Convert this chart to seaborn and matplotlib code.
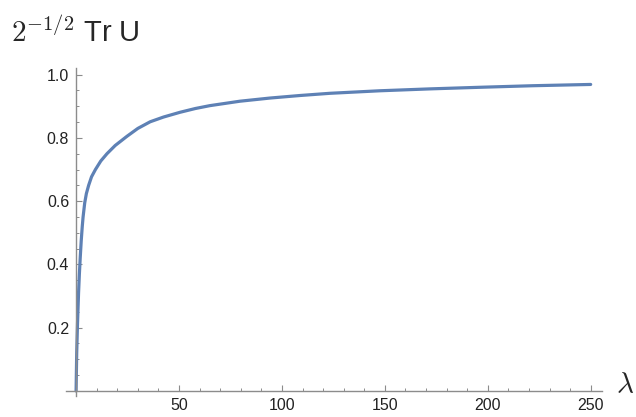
import numpy as np
import pandas as pd
import seaborn as sns
import matplotlib
matplotlib.use('Agg')
import matplotlib.pyplot as plt
from matplotlib.ticker import MultipleLocator, FixedLocator

# Values
lam = [0, 0.3, 0.7, 1.2, 1.6, 2.0, 2.5, 3.0, 3.4, 4.2, 5.0, 6.1, 7.5, 9.4,
       12, 15, 19, 24.7, 30, 36, 42.5, 50.5, 58, 65, 79.6, 94.2, 108.7,
       123.3, 147.6, 172, 196, 222, 250]
tr_u = [0.0, 0.12, 0.215, 0.31, 0.37, 0.42, 0.475, 0.52, 0.55, 0.595, 0.624, 0.65, 0.677, 0.70,
        0.727, 0.75, 0.776, 0.805, 0.83, 0.851, 0.866, 0.881, 0.893, 0.902, 0.916, 0.926, 0.934,
        0.941, 0.949, 0.955, 0.960, 0.965, 0.969]

x_ticks = [50, 100, 150, 200, 250]
y_ticks = [0.2, 0.4, 0.6, 0.8, 1.0]

df = pd.DataFrame({'lam': lam, 'tr': tr_u})

sns.set_theme(style='white')
plt.rcParams['font.family'] = ['Liberation Sans', 'DejaVu Sans']
plt.rcParams['mathtext.fontset'] = 'cm'

fig = plt.figure(figsize=(6.36, 4.17), dpi=100)
ax = fig.add_axes([66 / 636, 1 - 396 / 417, 536 / 636, 328 / 417])

sns.lineplot(data=df, x='lam', y='tr', ax=ax, color='#5E81B5', linewidth=2.3,
             estimator=None, sort=True)

ax.set_xlim(-4.9, 255.5)
ax.set_ylim(-0.016, 1.021)

# Mathematica style axes crossing at origin
for side in ['top', 'right']:
    ax.spines[side].set_visible(False)
for side in ['left', 'bottom']:
    ax.spines[side].set_position(('data', 0))
    ax.spines[side].set_color('#8c8c8c')
    ax.spines[side].set_linewidth(1.0)

ax.xaxis.set_major_locator(FixedLocator(x_ticks))
ax.yaxis.set_major_locator(FixedLocator(y_ticks))
ax.xaxis.set_minor_locator(MultipleLocator(10))
ax.yaxis.set_minor_locator(MultipleLocator(0.05))
ax.set_xticklabels([str(v) for v in x_ticks])
ax.set_yticklabels(['%.1f' % v for v in y_ticks])

ax.tick_params(which='major', direction='in', length=4, width=0.8, color='#8c8c8c',
               labelsize=11.5, labelcolor='#222222', pad=5)
ax.tick_params(which='minor', direction='in', length=2.2, width=0.7, color='#8c8c8c')
ax.tick_params(axis='x', which='both', bottom=True)
ax.tick_params(axis='y', which='both', left=True)
ax.set_xlabel('')
ax.set_ylabel('')
ax.grid(False)

fig.text(11 / 636, 1 - 42 / 417, r'$2^{-1/2}$ Tr U', fontsize=21, va='baseline', ha='left')
fig.text(616 / 636, 1 - 393 / 417, r'$\lambda$', fontsize=21, va='baseline', ha='left')

fig.savefig('out.png', dpi=100)
